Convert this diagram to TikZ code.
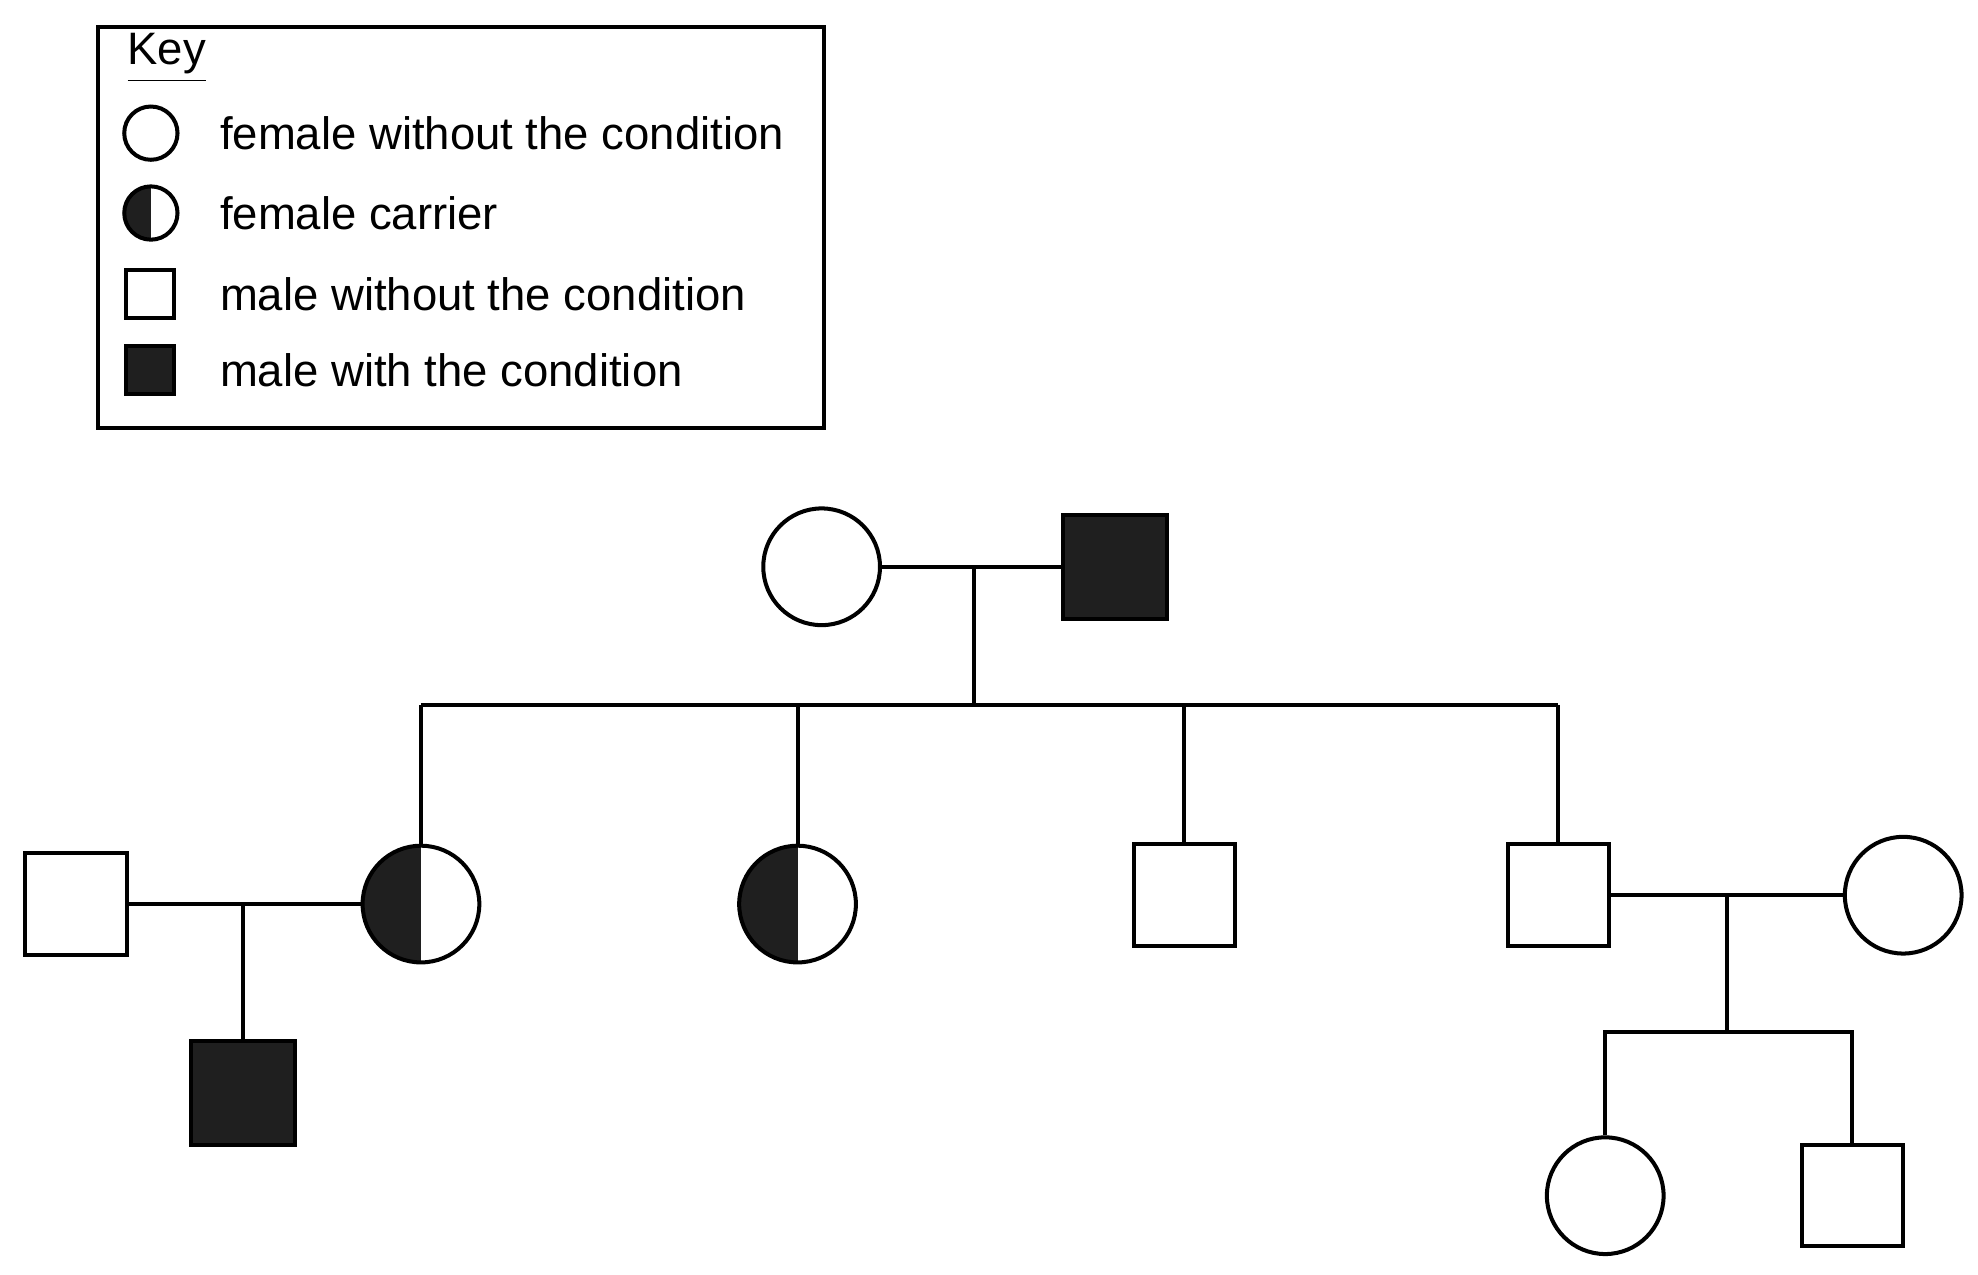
\documentclass[tikz,border=0pt]{standalone}
\usepackage{fontspec}
\setmainfont{Liberation Sans}
\begin{document}
\begin{tikzpicture}[x=0.01cm,y=-0.01cm,line width=0.9pt,
  fem/.style={circle,draw,minimum size=0.92cm,inner sep=0pt},
  car/.style={fem,path picture={\fill[black!88] (path picture bounding box.south west) rectangle (path picture bounding box.north);}},
  mal/.style={rectangle,draw,minimum size=0.80cm,inner sep=0pt},
  aff/.style={mal,fill=black!88,minimum size=0.82cm},
  kf/.style={circle,draw,minimum size=0.42cm,inner sep=0pt},
  kc/.style={kf,path picture={\fill[black!88] (path picture bounding box.south west) rectangle (path picture bounding box.north);}},
  km/.style={rectangle,draw,minimum size=0.38cm,inner sep=0pt},
  kt/.style={anchor=west,font=\fontsize{10.2}{12}\selectfont,inner sep=0pt}]
\useasboundingbox (0,0) rectangle (1560,1005);
% key
\node[draw,minimum width=5.72cm,minimum height=3.16cm,anchor=north west,inner sep=0pt] (key) at (76,20) {};
\node[kt] (keyt) at (99,46) {\underline{Key}};
\node[kf] (k1) at (119,105) {}; \node[kt] (t1) at (172,105) {female without the condition};
\node[kc] (k2) at (119,168) {}; \node[kt] (t2) at (172,168) {female carrier};
\node[km] (k3) at (118,232) {}; \node[kt] (t3) at (172,232) {male without the condition};
\node[km,fill=black!88] (k4) at (118,292) {}; \node[kt] (t4) at (172,292) {male with the condition};
% generation I
\node[fem] (g1f) at (648,447) {};
\node[aff] (g1m) at (879,447) {};
\coordinate (m1) at (768,447);
\coordinate (s1) at (768,556);
\draw (g1f) -- (g1m);
\draw (m1) -- (s1);
\coordinate (sl) at (332,556); \coordinate (sr) at (1229,556);
\draw (sl) -- (sr);
% generation II
\node[car] (c1) at (332,713) {};
\node[car] (c2) at (629,713) {};
\node[mal] (b1) at (934,706) {};
\node[mal] (b2) at (1229,706) {};
\node[mal] (h1) at (60,713) {};
\node[fem] (w2) at (1501,706) {};
\draw (sl) -- (c1.north);
\draw (629,556) coordinate (s2) -- (c2.north);
\draw (934,556) coordinate (s3) -- (b1.north);
\draw (sr) -- (b2.north);
\draw (h1) -- (c1);
\draw (b2) -- (w2);
% generation III
\node[aff] (g3a) at (192,862) {};
\coordinate (m2) at (192,713);
\draw (m2) -- (g3a.north);
\coordinate (m3) at (1362,706);
\coordinate (s4) at (1362,814);
\draw (m3) -- (s4);
\node[fem] (g3b) at (1266,943) {};
\node[mal] (g3c) at (1461,943) {};
\coordinate (s4l) at (1266,814); \coordinate (s4r) at (1461,814);
\draw (g3b.north) -- (s4l) -- (s4r) -- (g3c.north);
\end{tikzpicture}
\end{document}
